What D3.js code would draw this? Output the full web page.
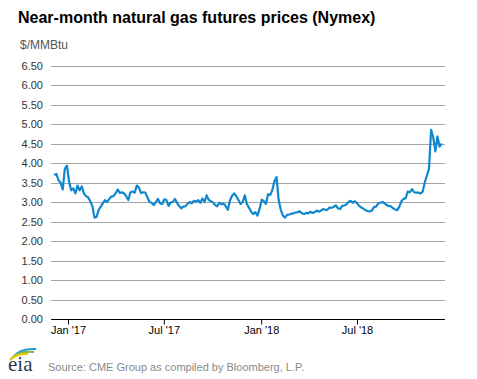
<!DOCTYPE html>
<html>
<head>
<meta charset="utf-8">
<script src="https://cdn.jsdelivr.net/npm/d3@7"></script>
<style>
  body { margin: 0; background: #fff; }
  svg { display: block; font-family: "Liberation Sans", Arial, sans-serif; }
</style>
</head>
<body>
<div id="chart"></div>
<script>
// near-month Henry Hub futures, $/MMBtu, one reading every 4 days from Dec 6 2016
const startDate = new Date(2016, 11, 6);
const stepDays = 4;
const prices = [
  3.69, 3.72, 3.56, 3.50, 3.32, 3.85, 3.93, 3.52, 3.30, 3.35,
  3.22, 3.42, 3.30, 3.40, 3.22, 3.15, 3.12, 3.02, 2.90, 2.60,
  2.62, 2.80, 2.88, 2.97, 3.05, 3.00, 3.08, 3.14, 3.15, 3.22,
  3.32, 3.23, 3.25, 3.22, 3.15, 3.05, 3.25, 3.27, 3.24, 3.42,
  3.37, 3.23, 3.25, 3.24, 3.12, 3.00, 2.98, 2.92, 3.00, 3.08,
  2.97, 2.95, 3.07, 3.05, 2.90, 2.99, 3.00, 3.08, 2.98, 2.90,
  2.84, 2.88, 2.89, 2.96, 3.00, 2.97, 3.03, 3.01, 3.05, 2.98,
  3.09, 3.00, 3.17, 3.05, 3.02, 2.99, 2.92, 2.89, 2.98, 2.94,
  2.96, 2.89, 2.80, 3.04, 3.16, 3.22, 3.15, 3.05, 2.95, 3.00,
  3.17, 2.95, 2.85, 2.75, 2.69, 2.74, 2.65, 2.83, 3.06, 3.02,
  2.95, 3.20, 3.18, 3.30, 3.53, 3.64, 3.05, 2.80, 2.65, 2.60,
  2.67, 2.68, 2.70, 2.71, 2.73, 2.74, 2.76, 2.71, 2.69, 2.72,
  2.71, 2.75, 2.72, 2.74, 2.78, 2.75, 2.78, 2.82, 2.80, 2.80,
  2.86, 2.85, 2.88, 2.91, 2.84, 2.82, 2.90, 2.91, 2.94, 3.00,
  3.03, 2.98, 3.02, 2.97, 2.90, 2.86, 2.83, 2.79, 2.77, 2.76,
  2.78, 2.87, 2.88, 2.96, 2.98, 3.00, 2.97, 2.92, 2.90, 2.89,
  2.84, 2.81, 2.79, 2.88, 3.02, 3.08, 3.10, 3.27, 3.25, 3.33,
  3.25, 3.24, 3.24, 3.22, 3.26, 3.50, 3.68, 3.85, 4.85, 4.66,
  4.30, 4.68, 4.42, 4.50
];
const yTicks = [0, 0.5, 1, 1.5, 2, 2.5, 3, 3.5, 4, 4.5, 5, 5.5, 6, 6.5];
const xTicks = [new Date(2017, 0, 1), new Date(2017, 6, 1), new Date(2018, 0, 1), new Date(2018, 6, 1)];
const xTickLabels = ["Jan '17", "Jul '17", "Jan '18", "Jul '18"];

const data = prices.map((v, i) => ({ date: d3.timeDay.offset(startDate, i * stepDays), value: v }));

const W = 477, H = 379;
const plotLeft = 51, plotRight = 445, plotTop = 65.5, plotBottom = 319;

const svg = d3.select("#chart").append("svg")
  .attr("width", W)
  .attr("height", H);

// title
svg.append("text")
  .attr("x", 18).attr("y", 23)
  .attr("font-size", 16).attr("font-weight", "bold").attr("fill", "#000")
  .text("Near-month natural gas futures prices (Nymex)");

svg.append("text")
  .attr("x", 20).attr("y", 49)
  .attr("font-size", 12).attr("fill", "#555")
  .text("$/MMBtu");

const x = d3.scaleTime()
  .domain([xTicks[0], xTicks[3]])
  .range([68, 357]);

const y = d3.scaleLinear()
  .domain([0, 6.5])
  .range([plotBottom, plotTop]);

// grid
svg.append("g")
  .selectAll("line")
  .data(yTicks.filter(d => d > 0))
  .join("line")
  .attr("x1", plotLeft).attr("x2", plotRight)
  .attr("y1", d => Math.round(y(d)) + 0.5)
  .attr("y2", d => Math.round(y(d)) + 0.5)
  .attr("stroke", "#a3a3a3")
  .attr("stroke-width", 1);

// y labels
svg.append("g")
  .selectAll("text")
  .data(yTicks)
  .join("text")
  .attr("x", 43)
  .attr("y", d => y(d) + 4)
  .attr("text-anchor", "end")
  .attr("font-size", 11)
  .attr("fill", "#333")
  .text(d => d.toFixed(2));

// x axis
const xAxis = svg.append("g")
  .attr("transform", `translate(0,${plotBottom + 0.5})`)
  .call(d3.axisBottom(x).tickValues(xTicks).tickSize(5).tickPadding(2)
    .tickFormat((d, i) => xTickLabels[i]));
xAxis.select(".domain").remove();
xAxis.selectAll("text").attr("font-size", 11).attr("fill", "#000").attr("font-family", null);
xAxis.selectAll("line").attr("stroke", "#000");

svg.append("line")
  .attr("x1", plotLeft).attr("x2", plotRight)
  .attr("y1", plotBottom + 0.5).attr("y2", plotBottom + 0.5)
  .attr("stroke", "#000");

// price line
const line = d3.line()
  .x(d => x(d.date))
  .y(d => y(d.value));

svg.append("path")
  .datum(data)
  .attr("fill", "none")
  .attr("stroke", "#0f87cf")
  .attr("stroke-width", 2.2)
  .attr("stroke-linejoin", "round")
  .attr("d", line);

// eia logo
const logo = svg.append("g").attr("transform", "translate(8,346)");
logo.append("path").attr("d", "M4,12 Q12,2 28,3").attr("fill", "none").attr("stroke", "#1e9ad6").attr("stroke-width", 2);
logo.append("path").attr("d", "M3,13 Q11,4 26,6").attr("fill", "none").attr("stroke", "#7ab648").attr("stroke-width", 2);
logo.append("path").attr("d", "M2,14 Q9,7 20,8").attr("fill", "none").attr("stroke", "#f2c200").attr("stroke-width", 2);
logo.append("text")
  .attr("x", 0).attr("y", 25)
  .attr("font-family", "'Liberation Serif', 'DejaVu Serif', serif")
  .attr("font-size", 21).attr("fill", "#2b3a4e")
  .text("eia");

svg.append("text")
  .attr("x", 48).attr("y", 371)
  .attr("font-size", 11).attr("fill", "#8a8a8a")
  .text("Source: CME Group as compiled by Bloomberg, L.P.");
</script>
</body>
</html>
